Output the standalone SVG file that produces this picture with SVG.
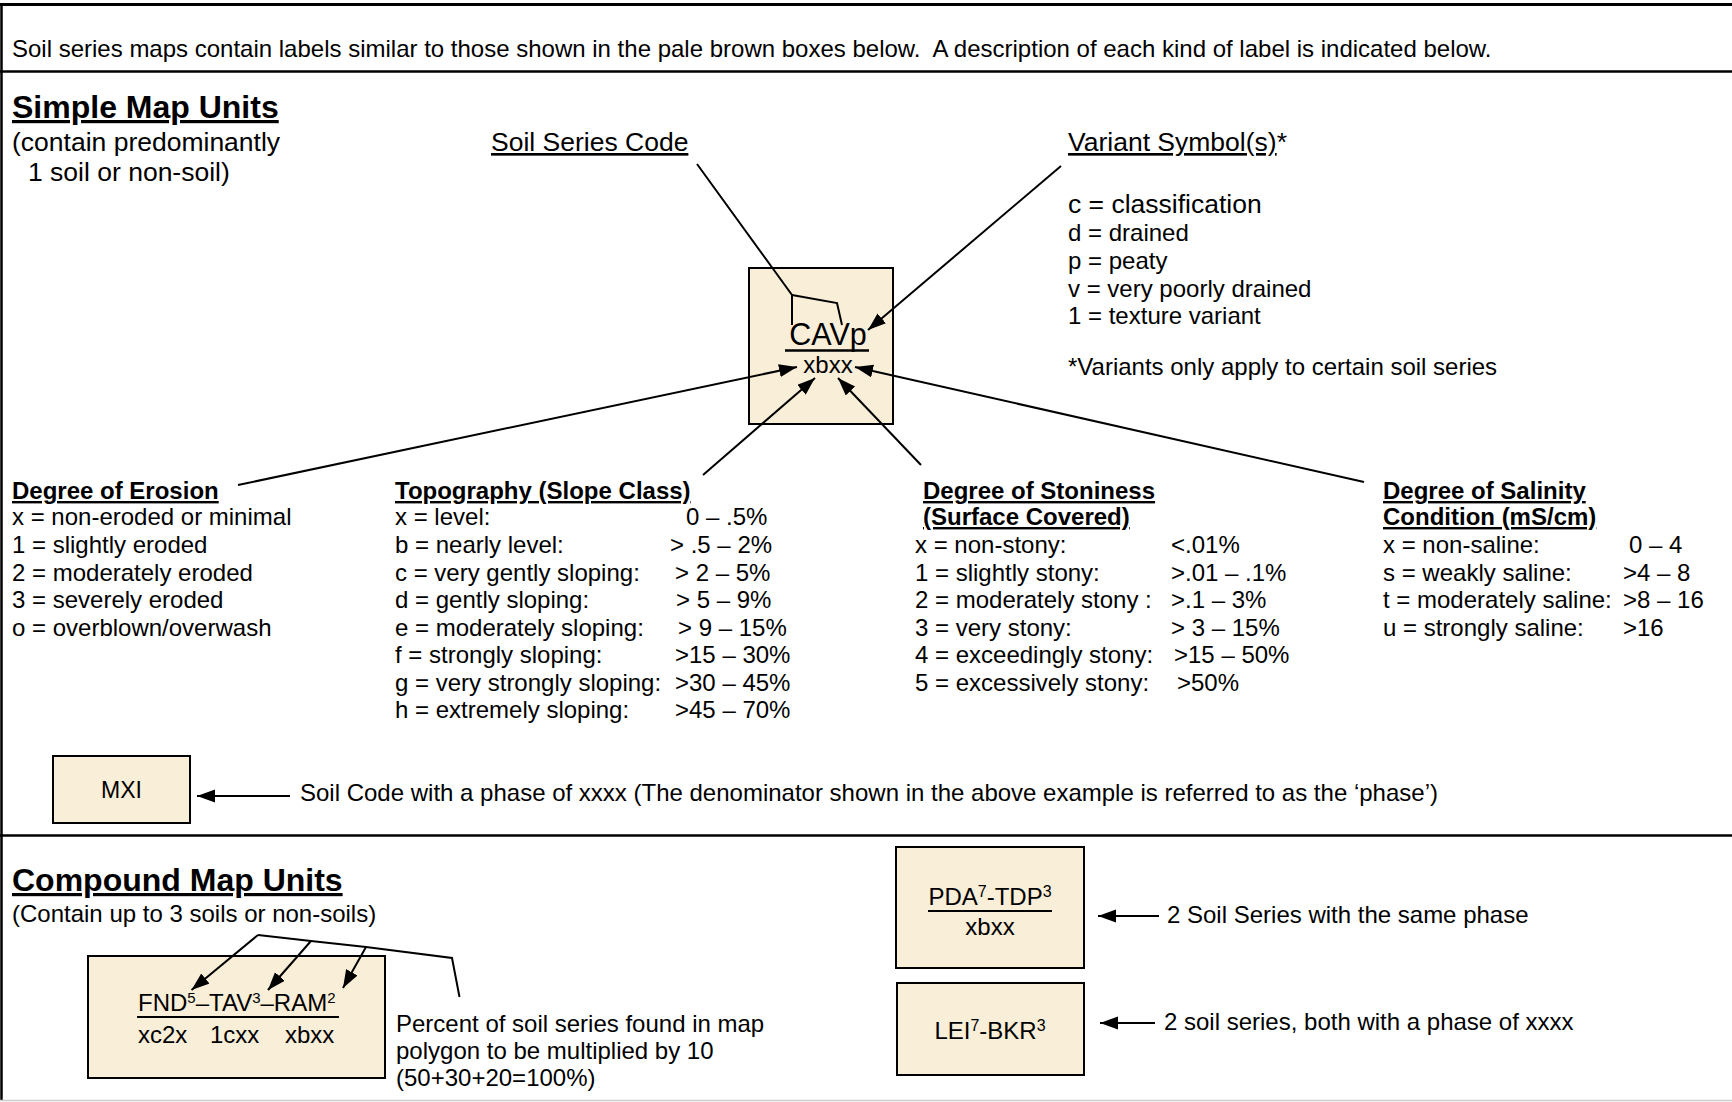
<svg xmlns="http://www.w3.org/2000/svg" width="1732" height="1102" viewBox="0 0 1732 1102">
<style>
.t{font-family:"Liberation Sans",Arial,Helvetica,sans-serif;fill:#000;white-space:pre}
.r24{font-size:24px}
.r26{font-size:26.5px}
.b24{font-size:24px;font-weight:bold}
.h32{font-size:32px;font-weight:bold}
.u{text-decoration:underline}
.box{fill:#f9eed8;stroke:#000;stroke-width:2}
.ln{stroke:#000;stroke-width:2;fill:none}
.ar{stroke:#000;stroke-width:2;fill:none;marker-end:url(#ah)}
.frame{stroke:#000;fill:none}
</style>
<defs>
<marker id="ah" markerUnits="userSpaceOnUse" markerWidth="20" markerHeight="14" refX="18" refY="6.5" orient="auto">
<path d="M0,0 L18,6.5 L0,13 z" fill="#000"/>
</marker>
</defs>
<rect x="0" y="0" width="1732" height="1102" fill="#fff"/>

<g id="frame">
<line class="frame" x1="0" y1="4.5" x2="1732" y2="4.5" stroke-width="3"/>
<line class="frame" x1="1.5" y1="4" x2="1.5" y2="1100" stroke-width="2.5"/>
<line class="frame" x1="0" y1="71.5" x2="1732" y2="71.5" stroke-width="2.5"/>
<line class="frame" x1="0" y1="835.5" x2="1732" y2="835.5" stroke-width="2.5"/>
<line x1="0" y1="1100.5" x2="1732" y2="1100.5" stroke="#ccc" stroke-width="1.5"/>
</g>

<g id="header">
<text class="t r24" x="12" y="57">Soil series maps contain labels similar to those shown in the pale brown boxes below.  A description of each kind of label is indicated below.</text>
</g>

<g id="simple-title">
<text class="t h32 u" x="12" y="118">Simple Map Units</text>
<text class="t r26" x="12" y="151">(contain predominantly</text>
<text class="t r26" x="28" y="181">1 soil or non-soil)</text>
</g>

<g id="soil-series-code">
<text class="t r26 u" x="491" y="151">Soil Series Code</text>
</g>

<g id="variant-symbols">
<text class="t r26" x="1068" y="151"><tspan class="u">Variant Symbol(s)</tspan>*</text>
<text class="t r26" x="1068" y="213">c = classification</text>
<text class="t r24" x="1068" y="241">d = drained</text>
<text class="t r24" x="1068" y="268.5">p = peaty</text>
<text class="t r24" x="1068" y="296.5">v = very poorly drained</text>
<text class="t r24" x="1068" y="324">1 = texture variant</text>
<text class="t r24" x="1068" y="375">*Variants only apply to certain soil series</text>
</g>

<g id="cavp-box">
<rect class="box" x="749" y="268" width="144" height="156"/>
<text class="t" x="828" y="345" font-size="30.5" text-anchor="middle">CAVp</text>
<line x1="785" y1="350.5" x2="869" y2="350.5" stroke="#000" stroke-width="2.5"/>
<text class="t r24" x="828" y="373" text-anchor="middle">xbxx</text>
</g>

<g id="erosion">
<text class="t b24 u" x="12" y="499">Degree of Erosion</text>
<text class="t r24" x="12" y="525">x = non-eroded or minimal</text>
<text class="t r24" x="12" y="553">1 = slightly eroded</text>
<text class="t r24" x="12" y="580.5">2 = moderately eroded</text>
<text class="t r24" x="12" y="608">3 = severely eroded</text>
<text class="t r24" x="12" y="635.5">o = overblown/overwash</text>
</g>

<g id="topography">
<text class="t b24 u" x="395" y="499">Topography (Slope Class)</text>
<text class="t r24" x="395" y="525">x = level:</text>
<text class="t r24" x="395" y="553">b = nearly level:</text>
<text class="t r24" x="395" y="580.5">c = very gently sloping:</text>
<text class="t r24" x="395" y="608">d = gently sloping:</text>
<text class="t r24" x="395" y="635.5">e = moderately sloping:</text>
<text class="t r24" x="395" y="663">f = strongly sloping:</text>
<text class="t r24" x="395" y="690.5">g = very strongly sloping:</text>
<text class="t r24" x="395" y="718">h = extremely sloping:</text>
<text class="t r24" x="686" y="525">0 – .5%</text>
<text class="t r24" x="670" y="553">&gt; .5 – 2%</text>
<text class="t r24" x="675" y="580.5">&gt; 2 – 5%</text>
<text class="t r24" x="676" y="608">&gt; 5 – 9%</text>
<text class="t r24" x="678" y="635.5">&gt; 9 – 15%</text>
<text class="t r24" x="675" y="663">&gt;15 – 30%</text>
<text class="t r24" x="675" y="690.5">&gt;30 – 45%</text>
<text class="t r24" x="675" y="718">&gt;45 – 70%</text>
</g>

<g id="stoniness">
<text class="t b24 u" x="923" y="499">Degree of Stoniness</text>
<text class="t b24 u" x="923" y="525">(Surface Covered)</text>
<text class="t r24" x="915" y="553">x = non-stony:</text>
<text class="t r24" x="915" y="580.5">1 = slightly stony:</text>
<text class="t r24" x="915" y="608">2 = moderately stony :</text>
<text class="t r24" x="915" y="635.5">3 = very stony:</text>
<text class="t r24" x="915" y="663">4 = exceedingly stony:</text>
<text class="t r24" x="915" y="690.5">5 = excessively stony:</text>
<text class="t r24" x="1171" y="553">&lt;.01%</text>
<text class="t r24" x="1171" y="580.5">&gt;.01 – .1%</text>
<text class="t r24" x="1171" y="608">&gt;.1 – 3%</text>
<text class="t r24" x="1171" y="635.5">&gt; 3 – 15%</text>
<text class="t r24" x="1174" y="663">&gt;15 – 50%</text>
<text class="t r24" x="1177" y="690.5">&gt;50%</text>
</g>

<g id="salinity">
<text class="t b24 u" x="1383" y="499">Degree of Salinity</text>
<text class="t b24 u" x="1383" y="525">Condition (mS/cm)</text>
<text class="t r24" x="1383" y="553">x = non-saline:</text>
<text class="t r24" x="1383" y="580.5">s = weakly saline:</text>
<text class="t r24" x="1383" y="608">t = moderately saline:</text>
<text class="t r24" x="1383" y="635.5">u = strongly saline:</text>
<text class="t r24" x="1629" y="553">0 – 4</text>
<text class="t r24" x="1623" y="580.5">&gt;4 – 8</text>
<text class="t r24" x="1623" y="608">&gt;8 – 16</text>
<text class="t r24" x="1623" y="635.5">&gt;16</text>
</g>

<g id="mxi-box">
<rect class="box" x="53" y="756" width="137" height="67"/>
<text class="t" x="121.5" y="798" font-size="23" text-anchor="middle">MXI</text>
</g>
<g id="mxi-note">
<text class="t r24" x="300" y="801">Soil Code with a phase of xxxx (The denominator shown in the above example is referred to as the ‘phase’)</text>
</g>

<g id="compound-title">
<text class="t h32 u" x="12" y="891">Compound Map Units</text>
<text class="t r24" x="12" y="922">(Contain up to 3 soils or non-soils)</text>
</g>

<g id="fnd-box">
<rect class="box" x="88" y="956" width="297" height="122"/>
<text class="t r24" x="138" y="1011">FND<tspan font-size="15" dy="-8">5</tspan><tspan dy="8">–TAV</tspan><tspan font-size="15" dy="-8">3</tspan><tspan dy="8">–RAM</tspan><tspan font-size="15" dy="-8">2</tspan></text>
<line x1="137" y1="1017" x2="339" y2="1017" stroke="#000" stroke-width="2"/>
<text class="t r24" x="138" y="1043">xc2x</text>
<text class="t r24" x="210" y="1043">1cxx</text>
<text class="t r24" x="285" y="1043">xbxx</text>
</g>
<g id="percent-note">
<text class="t r24" x="396" y="1032">Percent of soil series found in map</text>
<text class="t r24" x="396" y="1059">polygon to be multiplied by 10</text>
<text class="t r24" x="396" y="1086">(50+30+20=100%)</text>
</g>

<g id="pda-box">
<rect class="box" x="896" y="847" width="188" height="121"/>
<text class="t r24" x="990" y="905" text-anchor="middle">PDA<tspan font-size="16" dy="-8">7</tspan><tspan dy="8">-TDP</tspan><tspan font-size="16" dy="-8">3</tspan></text>
<line x1="928" y1="911" x2="1052" y2="911" stroke="#000" stroke-width="2"/>
<text class="t r24" x="990" y="935" text-anchor="middle">xbxx</text>
</g>
<g id="pda-note">
<text class="t r24" x="1167" y="923">2 Soil Series with the same phase</text>
</g>

<g id="lei-box">
<rect class="box" x="897" y="983" width="187" height="92"/>
<text class="t r24" x="990" y="1039" text-anchor="middle">LEI<tspan font-size="16" dy="-8">7</tspan><tspan dy="8">-BKR</tspan><tspan font-size="16" dy="-8">3</tspan></text>
</g>
<g id="lei-note">
<text class="t r24" x="1164" y="1030">2 soil series, both with a phase of xxxx</text>
</g>

<g id="connectors">
<polyline class="ln" points="697,164 792,295 792,325"/>
<polyline class="ln" points="792,295 837,303 842,325"/>
<line class="ar" x1="1061" y1="166" x2="868" y2="330"/>
<line class="ar" x1="238" y1="485" x2="797" y2="367"/>
<line class="ar" x1="703" y1="475" x2="815" y2="378"/>
<line class="ar" x1="921" y1="465" x2="838" y2="378"/>
<line class="ar" x1="1364" y1="482" x2="855" y2="367"/>
<line class="ar" x1="290" y1="796" x2="197" y2="796"/>
<polyline class="ln" points="258,935 311,941 366,947 452,958 459.5,997"/>
<line class="ar" x1="258" y1="935" x2="191.5" y2="990"/>
<line class="ar" x1="311" y1="941" x2="268" y2="990"/>
<line class="ar" x1="366" y1="947" x2="343" y2="988"/>
<line class="ar" x1="1159" y1="916" x2="1098" y2="916"/>
<line class="ar" x1="1155" y1="1023" x2="1100" y2="1023"/>
</g>
</svg>
